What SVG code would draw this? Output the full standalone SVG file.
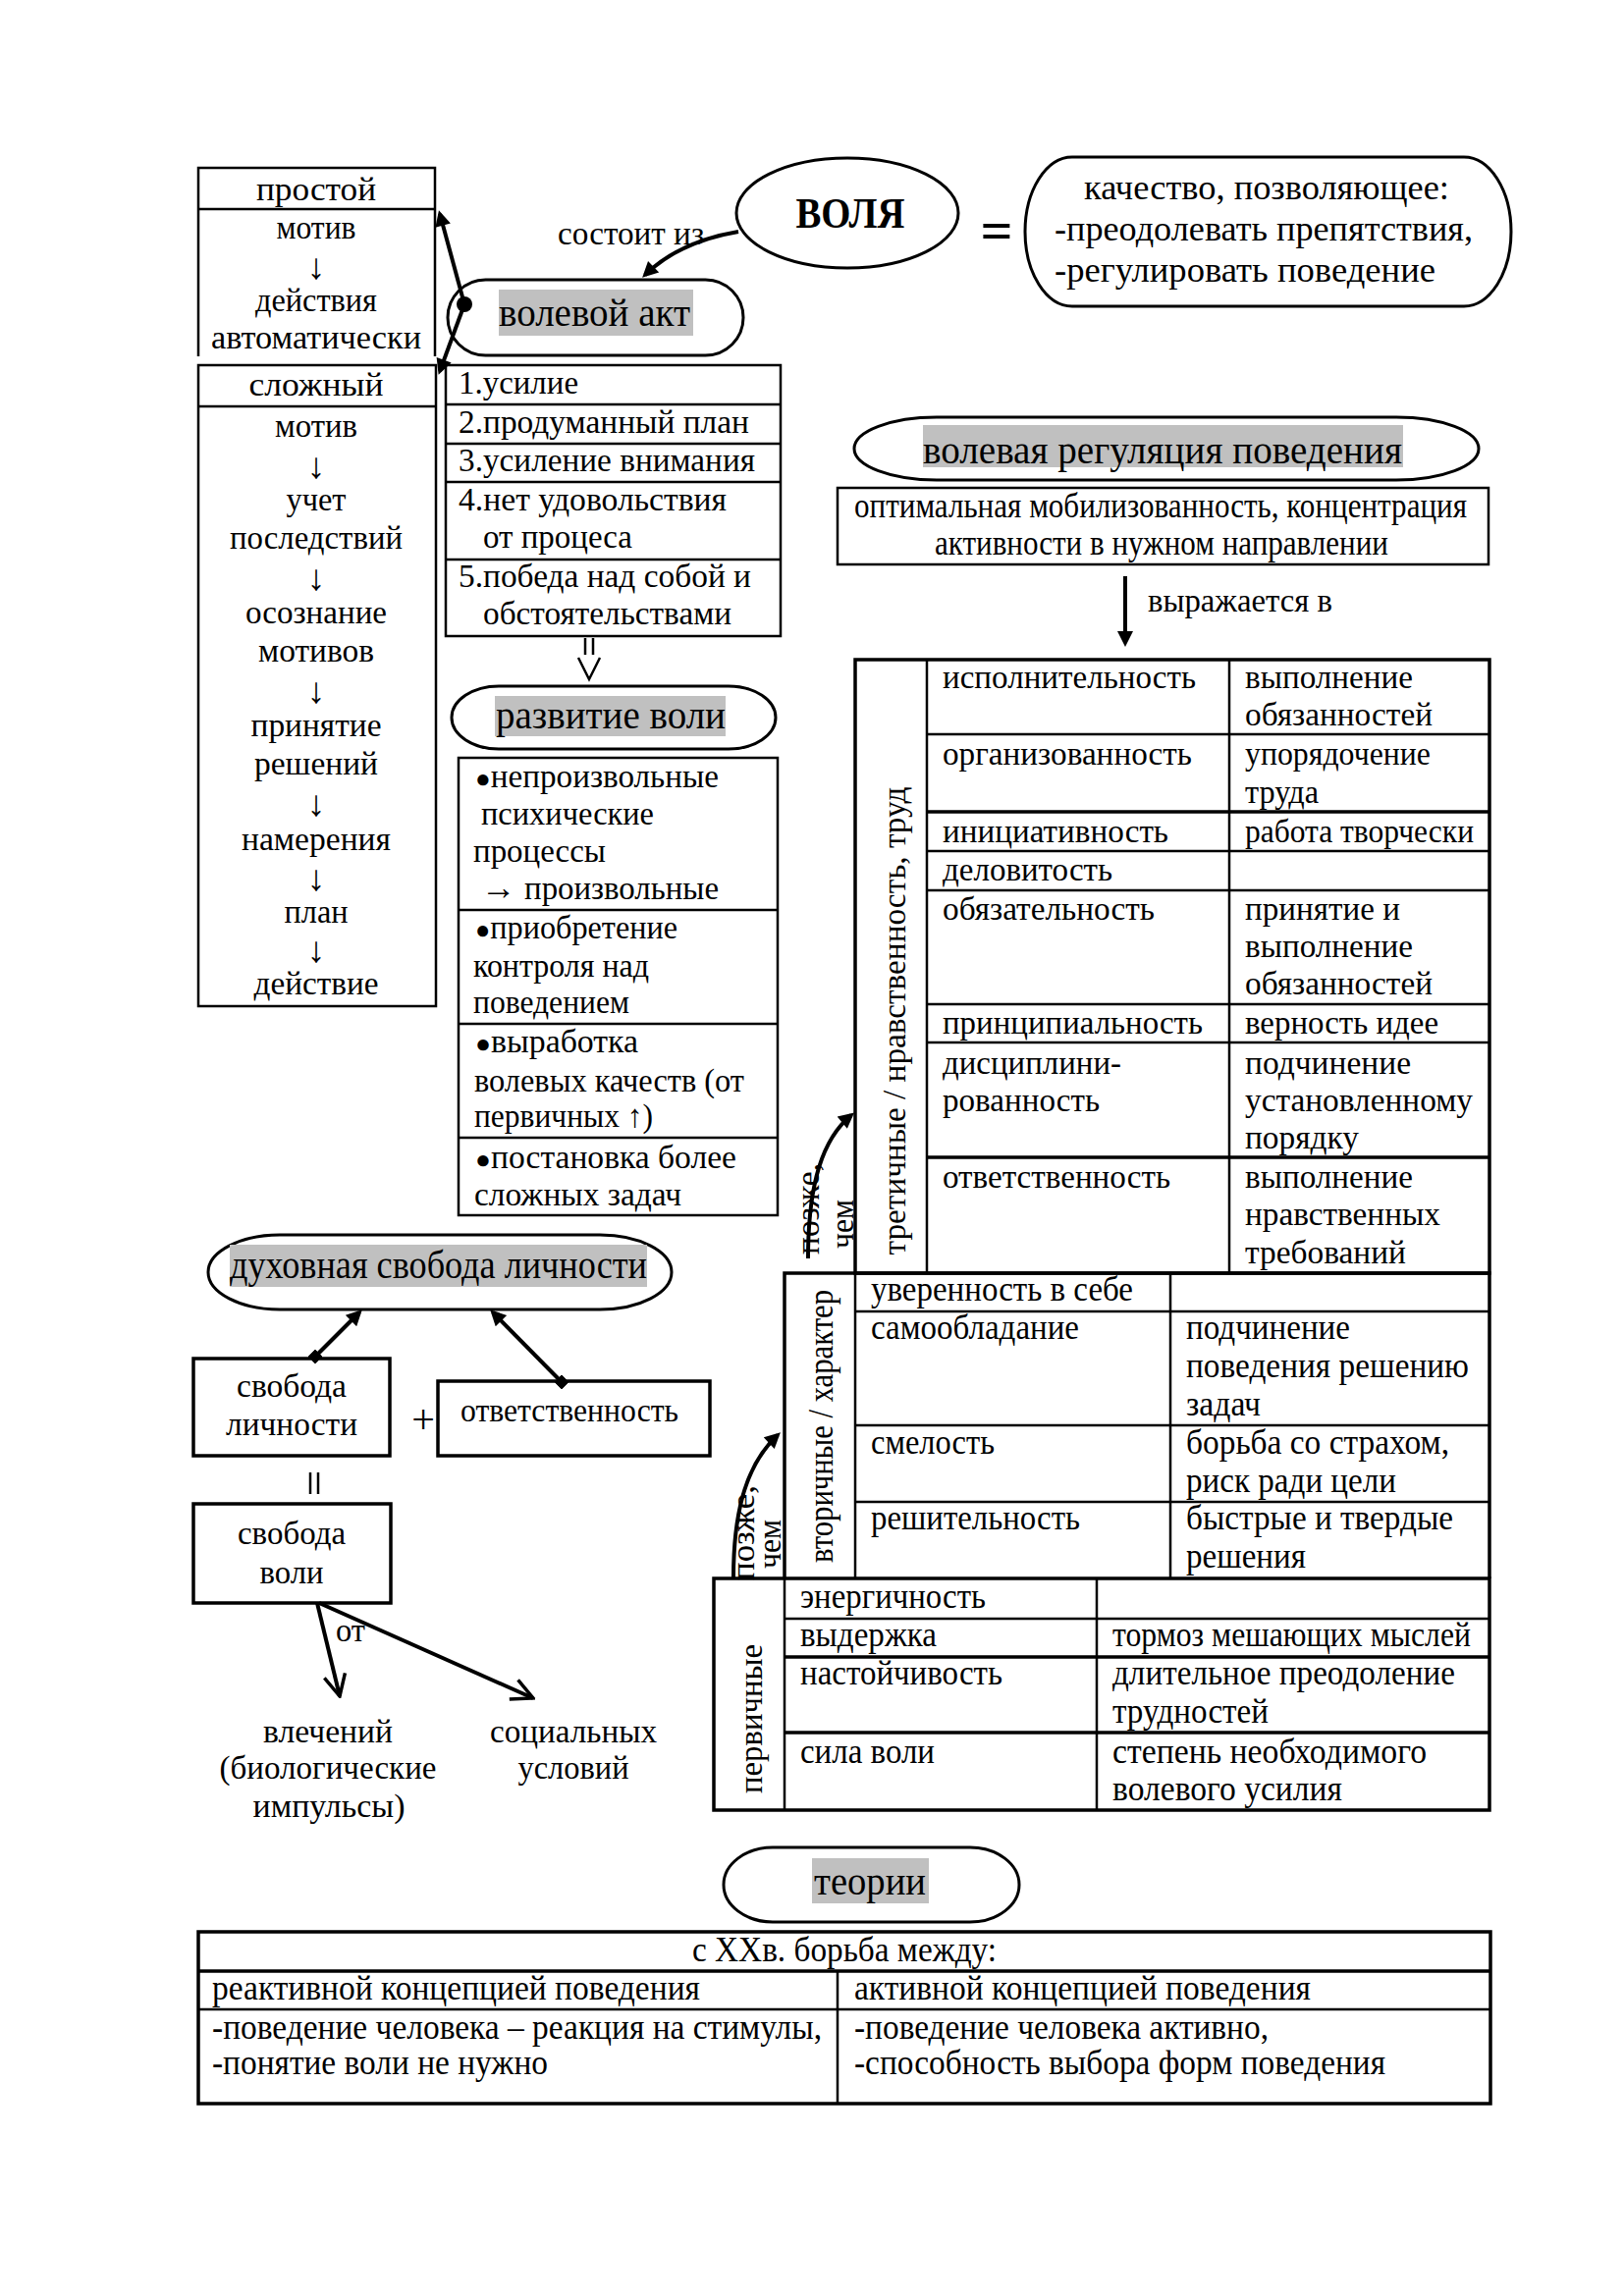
<svg xmlns="http://www.w3.org/2000/svg" width="1654" height="2339" viewBox="0 0 1654 2339">
<defs>
<style>
text{font-family:"Liberation Serif","Times New Roman",serif;font-size:33px;fill:#000}
.h{font-size:39px}
.c{font-size:36px}
.m{text-anchor:middle}
.bx{fill:none;stroke:#000;stroke-width:2.5}
.bx3{fill:none;stroke:#000;stroke-width:3.5}
.pl{fill:none;stroke:#000;stroke-width:3}
.ln{stroke:#000;stroke-width:2.5;fill:none}
.lt{stroke:#000;stroke-width:3.5;fill:none}
.hl{fill:#c0c0c0}
.ar{stroke:#000;stroke-width:4;fill:none}
.bl{font-size:26px}
.dn{font-size:37px}
.sy{font-size:36px}
</style>
<marker id="af" viewBox="0 0 10 10" refX="7.5" refY="5" markerUnits="userSpaceOnUse" markerWidth="20" markerHeight="16" orient="auto"><path d="M0,0 L10,5 L0,10 z" fill="#000"/></marker>
<marker id="ao" viewBox="0 0 12 12" refX="11" refY="6" markerUnits="userSpaceOnUse" markerWidth="26" markerHeight="26" orient="auto"><path d="M1,1 L11,6 L1,11" fill="none" stroke="#000" stroke-width="1.6"/></marker>
<marker id="sq" viewBox="0 0 10 10" refX="5" refY="5" markerUnits="userSpaceOnUse" markerWidth="11" markerHeight="11" orient="auto"><rect width="10" height="10" fill="#000"/></marker>
</defs>
<rect width="1654" height="2339" fill="#fff"/>

<g id="prostoy">
<path class="bx" d="M202,363 V171 H443 V363"/>
<line class="ln" x1="202" y1="213" x2="443" y2="213"/>
<text class="m" x="322" y="204" textLength="122" lengthAdjust="spacingAndGlyphs">простой</text>
<text class="m" x="322" y="243" textLength="81" lengthAdjust="spacingAndGlyphs">мотив</text>
<text class="m dn" x="322" y="284">↓</text>
<text class="m" x="322" y="317" textLength="124" lengthAdjust="spacingAndGlyphs">действия</text>
<text class="m" x="322" y="355" textLength="214" lengthAdjust="spacingAndGlyphs">автоматически</text>
</g>

<g id="slozhny">
<rect class="bx" x="202" y="372" width="242" height="653"/>
<line class="ln" x1="202" y1="414" x2="444" y2="414"/>
<text class="m" x="322" y="403" textLength="137" lengthAdjust="spacingAndGlyphs">сложный</text>
<text class="m" x="322" y="445" textLength="84" lengthAdjust="spacingAndGlyphs">мотив</text>
<text class="m dn" x="322" y="487">↓</text>
<text class="m" x="322" y="520" textLength="61" lengthAdjust="spacingAndGlyphs">учет</text>
<text class="m" x="322" y="559" textLength="176" lengthAdjust="spacingAndGlyphs">последствий</text>
<text class="m dn" x="322" y="601">↓</text>
<text class="m" x="322" y="635" textLength="144" lengthAdjust="spacingAndGlyphs">осознание</text>
<text class="m" x="322" y="674" textLength="118" lengthAdjust="spacingAndGlyphs">мотивов</text>
<text class="m dn" x="322" y="716">↓</text>
<text class="m" x="322" y="750" textLength="133" lengthAdjust="spacingAndGlyphs">принятие</text>
<text class="m" x="322" y="789" textLength="126" lengthAdjust="spacingAndGlyphs">решений</text>
<text class="m dn" x="322" y="831">↓</text>
<text class="m" x="322" y="866" textLength="152" lengthAdjust="spacingAndGlyphs">намерения</text>
<text class="m dn" x="322" y="907">↓</text>
<text class="m" x="322" y="940" textLength="65" lengthAdjust="spacingAndGlyphs">план</text>
<text class="m dn" x="322" y="980">↓</text>
<text class="m" x="322" y="1013" textLength="127" lengthAdjust="spacingAndGlyphs">действие</text>
</g>

<g id="volya">
<ellipse class="pl" cx="863" cy="217" rx="113" ry="56"/>
<text class="m" x="866" y="232" style="font-size:44px;font-weight:bold" textLength="111" lengthAdjust="spacingAndGlyphs">ВОЛЯ</text>
</g>

<g id="equals">
<text class="m" x="1015" y="254" style="font-size:58px;font-weight:bold">=</text>
</g>

<g id="kachestvo">
<rect class="pl" x="1044" y="160" width="495" height="152" rx="48" ry="76"/>
<text class="c m" x="1290" y="203" textLength="372" lengthAdjust="spacingAndGlyphs">качество, позволяющее:</text>
<text class="c" x="1074" y="245" textLength="426" lengthAdjust="spacingAndGlyphs">-преодолевать препятствия,</text>
<text class="c" x="1074" y="287" textLength="388" lengthAdjust="spacingAndGlyphs">-регулировать поведение</text>
</g>

<g id="volevoy-akt">
<rect class="pl" x="456" y="285" width="301" height="77" rx="38.5"/>
<rect class="hl" x="508" y="295" width="198" height="47"/>
<text class="h" x="508" y="332" textLength="195" lengthAdjust="spacingAndGlyphs">волевой акт</text>
<circle cx="473" cy="310" r="8" fill="#000"/>
</g>

<g id="akt-list">
<rect class="bx" x="454" y="372" width="341" height="276"/>
<line class="ln" x1="454" y1="412" x2="795" y2="412"/>
<line class="ln" x1="454" y1="452" x2="795" y2="452"/>
<line class="ln" x1="454" y1="491" x2="795" y2="491"/>
<line class="ln" x1="454" y1="570" x2="795" y2="570"/>
<text x="467" y="401" textLength="122" lengthAdjust="spacingAndGlyphs">1.усилие</text>
<text x="467" y="441" textLength="296" lengthAdjust="spacingAndGlyphs">2.продуманный план</text>
<text x="467" y="480" textLength="302" lengthAdjust="spacingAndGlyphs">3.усиление внимания</text>
<text x="467" y="520" textLength="273" lengthAdjust="spacingAndGlyphs">4.нет удовольствия</text>
<text x="492" y="558" textLength="152" lengthAdjust="spacingAndGlyphs">от процеса</text>
<text x="467" y="598" textLength="298" lengthAdjust="spacingAndGlyphs">5.победа над собой и</text>
<text x="492" y="636" textLength="253" lengthAdjust="spacingAndGlyphs">обстоятельствами</text>
</g>

<g id="razvitie">
<rect class="pl" x="460" y="699" width="330" height="64" rx="48" ry="32"/>
<rect class="hl" x="504" y="709" width="235" height="41"/>
<text class="h" x="505" y="742" textLength="234" lengthAdjust="spacingAndGlyphs">развитие воли</text>
</g>

<g id="razvitie-list">
<rect class="bx" x="467" y="772" width="325" height="466"/>
<line class="ln" x1="467" y1="927" x2="792" y2="927"/>
<line class="ln" x1="467" y1="1043" x2="792" y2="1043"/>
<line class="ln" x1="467" y1="1159" x2="792" y2="1159"/>
<text x="484" y="802" textLength="248" lengthAdjust="spacingAndGlyphs"><tspan class="bl">●</tspan>непроизвольные</text>
<text x="490" y="840" textLength="176" lengthAdjust="spacingAndGlyphs">психические</text>
<text x="482" y="878" textLength="135" lengthAdjust="spacingAndGlyphs">процессы</text>
<text x="490" y="916" textLength="242" lengthAdjust="spacingAndGlyphs"><tspan class="sy">→</tspan> произвольные</text>
<text x="484" y="956" textLength="206" lengthAdjust="spacingAndGlyphs"><tspan class="bl">●</tspan>приобретение</text>
<text x="482" y="995" textLength="179" lengthAdjust="spacingAndGlyphs">контроля над</text>
<text x="482" y="1032" textLength="159" lengthAdjust="spacingAndGlyphs">поведением</text>
<text x="484" y="1072" textLength="166" lengthAdjust="spacingAndGlyphs"><tspan class="bl">●</tspan>выработка</text>
<text x="483" y="1112" textLength="275" lengthAdjust="spacingAndGlyphs">волевых качеств (от</text>
<text x="483" y="1148" textLength="182" lengthAdjust="spacingAndGlyphs">первичных ↑)</text>
<text x="484" y="1190" textLength="266" lengthAdjust="spacingAndGlyphs"><tspan class="bl">●</tspan>постановка более</text>
<text x="483" y="1228" textLength="211" lengthAdjust="spacingAndGlyphs">сложных задач</text>
</g>

<g id="regulyaciya">
<rect class="pl" x="870" y="425" width="636" height="64" rx="84" ry="32"/>
<rect class="hl" x="940" y="433" width="489" height="43"/>
<text class="h" x="940" y="472" textLength="488" lengthAdjust="spacingAndGlyphs">волевая регуляция поведения</text>
</g>

<g id="mobilizovannost">
<rect class="bx" x="853" y="497" width="663" height="78"/>
<text class="c m" x="1182" y="527" textLength="624" lengthAdjust="spacingAndGlyphs">оптимальная мобилизованность, концентрация</text>
<text class="c m" x="1183" y="565" textLength="462" lengthAdjust="spacingAndGlyphs">активности в нужном направлении</text>
</g>

<g id="tretichnye">
<rect class="lt" x="871" y="672" width="646" height="625"/>
<line class="ln" x1="944" y1="672" x2="944" y2="1297"/>
<line class="ln" x1="1252" y1="672" x2="1252" y2="1297"/>
<line class="ln" x1="944" y1="748" x2="1517" y2="748"/>
<line class="lt" x1="944" y1="827" x2="1517" y2="827"/>
<line class="ln" x1="944" y1="867" x2="1517" y2="867"/>
<line class="ln" x1="944" y1="907" x2="1517" y2="907"/>
<line class="ln" x1="944" y1="1023" x2="1517" y2="1023"/>
<line class="ln" x1="944" y1="1062" x2="1517" y2="1062"/>
<line class="lt" x1="944" y1="1179" x2="1517" y2="1179"/>
<text class="m" transform="translate(922,1040) rotate(-90)" textLength="477" lengthAdjust="spacingAndGlyphs">третичные / нравственность, труд</text>
<text x="960" y="701" textLength="258" lengthAdjust="spacingAndGlyphs">исполнительность</text>
<text x="1268" y="701" textLength="171" lengthAdjust="spacingAndGlyphs">выполнение</text>
<text x="1268" y="739" textLength="191" lengthAdjust="spacingAndGlyphs">обязанностей</text>
<text x="960" y="779" textLength="254" lengthAdjust="spacingAndGlyphs">организованность</text>
<text x="1268" y="779" textLength="189" lengthAdjust="spacingAndGlyphs">упорядочение</text>
<text x="1268" y="818" textLength="75" lengthAdjust="spacingAndGlyphs">труда</text>
<text x="960" y="858" textLength="230" lengthAdjust="spacingAndGlyphs">инициативность</text>
<text x="1268" y="858" textLength="233" lengthAdjust="spacingAndGlyphs">работа творчески</text>
<text x="960" y="897" textLength="173" lengthAdjust="spacingAndGlyphs">деловитость</text>
<text x="960" y="937" textLength="216" lengthAdjust="spacingAndGlyphs">обязательность</text>
<text x="1268" y="937" textLength="158" lengthAdjust="spacingAndGlyphs">принятие и</text>
<text x="1268" y="975" textLength="171" lengthAdjust="spacingAndGlyphs">выполнение</text>
<text x="1268" y="1013" textLength="191" lengthAdjust="spacingAndGlyphs">обязанностей</text>
<text x="960" y="1053" textLength="265" lengthAdjust="spacingAndGlyphs">принципиальность</text>
<text x="1268" y="1053" textLength="197" lengthAdjust="spacingAndGlyphs">верность идее</text>
<text x="960" y="1094" textLength="182" lengthAdjust="spacingAndGlyphs">дисциплини-</text>
<text x="960" y="1132" textLength="160" lengthAdjust="spacingAndGlyphs">рованность</text>
<text x="1268" y="1094" textLength="169" lengthAdjust="spacingAndGlyphs">подчинение</text>
<text x="1268" y="1132" textLength="232" lengthAdjust="spacingAndGlyphs">установленному</text>
<text x="1268" y="1170" textLength="116" lengthAdjust="spacingAndGlyphs">порядку</text>
<text x="960" y="1210" textLength="232" lengthAdjust="spacingAndGlyphs">ответственность</text>
<text x="1268" y="1210" textLength="171" lengthAdjust="spacingAndGlyphs">выполнение</text>
<text x="1268" y="1248" textLength="199" lengthAdjust="spacingAndGlyphs">нравственных</text>
<text x="1268" y="1287" textLength="164" lengthAdjust="spacingAndGlyphs">требований</text>
</g>

<g id="vtorichnye">
<path class="lt" d="M799,1608 V1297 H1517 V1608"/>
<line class="ln" x1="871" y1="1297" x2="871" y2="1608"/>
<line class="ln" x1="1192" y1="1297" x2="1192" y2="1608"/>
<line class="ln" x1="871" y1="1336" x2="1517" y2="1336"/>
<line class="ln" x1="871" y1="1452" x2="1517" y2="1452"/>
<line class="ln" x1="871" y1="1530" x2="1517" y2="1530"/>
<text class="c m" transform="translate(848,1453) rotate(-90)" textLength="278" lengthAdjust="spacingAndGlyphs">вторичные / характер</text>
<text class="c" x="887" y="1325" textLength="267" lengthAdjust="spacingAndGlyphs">уверенность в себе</text>
<text class="c" x="887" y="1364" textLength="212" lengthAdjust="spacingAndGlyphs">самообладание</text>
<text class="c" x="1208" y="1364" textLength="167" lengthAdjust="spacingAndGlyphs">подчинение</text>
<text class="c" x="1208" y="1403" textLength="288" lengthAdjust="spacingAndGlyphs">поведения решению</text>
<text class="c" x="1208" y="1442" textLength="76" lengthAdjust="spacingAndGlyphs">задач</text>
<text class="c" x="887" y="1481" textLength="126" lengthAdjust="spacingAndGlyphs">смелость</text>
<text class="c" x="1208" y="1481" textLength="268" lengthAdjust="spacingAndGlyphs">борьба со страхом,</text>
<text class="c" x="1208" y="1520" textLength="214" lengthAdjust="spacingAndGlyphs">риск ради цели</text>
<text class="c" x="887" y="1558" textLength="213" lengthAdjust="spacingAndGlyphs">решительность</text>
<text class="c" x="1208" y="1558" textLength="272" lengthAdjust="spacingAndGlyphs">быстрые и твердые</text>
<text class="c" x="1208" y="1597" textLength="122" lengthAdjust="spacingAndGlyphs">решения</text>
</g>

<g id="pervichnye">
<rect class="lt" x="727" y="1608" width="790" height="236"/>
<line class="ln" x1="799" y1="1608" x2="799" y2="1844"/>
<line class="ln" x1="1117" y1="1608" x2="1117" y2="1844"/>
<line class="ln" x1="799" y1="1649" x2="1517" y2="1649"/>
<line class="lt" x1="799" y1="1688" x2="1517" y2="1688"/>
<line class="lt" x1="799" y1="1765" x2="1517" y2="1765"/>
<text class="m" transform="translate(776,1751) rotate(-90)" textLength="152" lengthAdjust="spacingAndGlyphs">первичные</text>
<text class="c" x="815" y="1638" textLength="189" lengthAdjust="spacingAndGlyphs">энергичность</text>
<text class="c" x="815" y="1677" textLength="139" lengthAdjust="spacingAndGlyphs">выдержка</text>
<text class="c" x="1133" y="1677" textLength="365" lengthAdjust="spacingAndGlyphs">тормоз мешающих мыслей</text>
<text class="c" x="815" y="1716" textLength="206" lengthAdjust="spacingAndGlyphs">настойчивость</text>
<text class="c" x="1133" y="1716" textLength="349" lengthAdjust="spacingAndGlyphs">длительное преодоление</text>
<text class="c" x="1133" y="1755" textLength="159" lengthAdjust="spacingAndGlyphs">трудностей</text>
<text class="c" x="815" y="1796" textLength="137" lengthAdjust="spacingAndGlyphs">сила воли</text>
<text class="c" x="1133" y="1796" textLength="320" lengthAdjust="spacingAndGlyphs">степень необходимого</text>
<text class="c" x="1133" y="1834" textLength="234" lengthAdjust="spacingAndGlyphs">волевого усилия</text>
</g>

<g id="duhovnaya">
<rect class="pl" x="212" y="1258" width="472" height="76" rx="73" ry="38"/>
<rect class="hl" x="234" y="1268" width="425" height="43"/>
<text class="h" x="234" y="1302" textLength="425" lengthAdjust="spacingAndGlyphs">духовная свобода личности</text>
</g>

<g id="svoboda-lichnosti">
<rect class="bx3" x="197" y="1384" width="200" height="99"/>
<text class="m" x="297" y="1423" textLength="112" lengthAdjust="spacingAndGlyphs">свобода</text>
<text class="m" x="297" y="1462" textLength="134" lengthAdjust="spacingAndGlyphs">личности</text>
</g>

<g id="plus">
<text class="m" x="431" y="1460" style="font-size:42px">+</text>
</g>

<g id="otvetstvennost">
<rect class="bx3" x="446" y="1407" width="277" height="76"/>
<text class="m" x="580" y="1448" textLength="222" lengthAdjust="spacingAndGlyphs">ответственность</text>
</g>

<g id="svoboda-voli">
<rect class="bx3" x="197" y="1532" width="201" height="101"/>
<text class="m" x="297" y="1573" textLength="110" lengthAdjust="spacingAndGlyphs">свобода</text>
<text class="m" x="297" y="1613" textLength="65" lengthAdjust="spacingAndGlyphs">воли</text>
</g>

<g id="vlecheniy">
<text class="m" x="334" y="1775" textLength="132" lengthAdjust="spacingAndGlyphs">влечений</text>
<text class="m" x="334" y="1812" textLength="221" lengthAdjust="spacingAndGlyphs">(биологические</text>
<text class="m" x="335" y="1851" textLength="155" lengthAdjust="spacingAndGlyphs">импульсы)</text>
</g>

<g id="socialnyh">
<text class="m" x="584" y="1775" textLength="170" lengthAdjust="spacingAndGlyphs">социальных</text>
<text class="m" x="584" y="1812" textLength="113" lengthAdjust="spacingAndGlyphs">условий</text>
</g>

<g id="teorii">
<rect class="pl" x="737" y="1882" width="301" height="76" rx="50" ry="38"/>
<rect class="hl" x="827" y="1893" width="119" height="46"/>
<text class="h" x="829" y="1930" textLength="114" lengthAdjust="spacingAndGlyphs">теории</text>
</g>

<g id="teorii-table">
<rect class="lt" x="202" y="1968" width="1316" height="175"/>
<line class="lt" x1="202" y1="2008" x2="1518" y2="2008"/>
<line class="ln" x1="202" y1="2047" x2="1518" y2="2047"/>
<line class="ln" x1="853" y1="2008" x2="853" y2="2143"/>
<text class="c m" x="860" y="1998" textLength="310" lengthAdjust="spacingAndGlyphs">с XXв. борьба между:</text>
<text class="c" x="216" y="2037" textLength="497" lengthAdjust="spacingAndGlyphs">реактивной концепцией поведения</text>
<text class="c" x="870" y="2037" textLength="465" lengthAdjust="spacingAndGlyphs">активной концепцией поведения</text>
<text class="c" x="216" y="2077" textLength="621" lengthAdjust="spacingAndGlyphs">-поведение человека – реакция на стимулы,</text>
<text class="c" x="216" y="2113" textLength="342" lengthAdjust="spacingAndGlyphs">-понятие воли не нужно</text>
<text class="c" x="870" y="2077" textLength="422" lengthAdjust="spacingAndGlyphs">-поведение человека активно,</text>
<text class="c" x="870" y="2113" textLength="541" lengthAdjust="spacingAndGlyphs">-способность выбора форм поведения</text>
</g>

<g id="connectors">
<path class="ar" d="M752,236 Q692,246 657,280" marker-end="url(#af)"/>
<text x="568" y="249" textLength="149" lengthAdjust="spacingAndGlyphs">состоит из</text>
<line class="ar" x1="473" y1="310" x2="448" y2="218" marker-end="url(#af)"/>
<line class="ar" x1="473" y1="310" x2="448" y2="378" marker-end="url(#af)"/>
<line class="ln" x1="596" y1="650" x2="596" y2="667"/>
<line class="ln" x1="604" y1="650" x2="604" y2="667"/>
<polyline class="ln" points="589,670 600,692 611,670"/>
<line class="ar" x1="1146" y1="587" x2="1146" y2="655" marker-end="url(#af)"/>
<text x="1169" y="623" textLength="188" lengthAdjust="spacingAndGlyphs">выражается в</text>
<path class="ar" d="M823,1282 C823,1205 838,1160 867,1136" marker-end="url(#af)"/>
<text transform="translate(834,1278) rotate(-90)" textLength="93" lengthAdjust="spacingAndGlyphs">позже,</text>
<text transform="translate(869,1272) rotate(-90)" textLength="50" lengthAdjust="spacingAndGlyphs">чем</text>
<path class="ar" d="M747,1607 C747,1535 762,1490 792,1462" marker-end="url(#af)"/>
<text transform="translate(768,1610) rotate(-90)" textLength="97" lengthAdjust="spacingAndGlyphs">позже,</text>
<text transform="translate(795,1598) rotate(-90)" textLength="50" lengthAdjust="spacingAndGlyphs">чем</text>
<line class="ar" x1="321" y1="1382" x2="366" y2="1337" marker-start="url(#sq)" marker-end="url(#af)"/>
<line class="ar" x1="572" y1="1408" x2="502" y2="1337" marker-start="url(#sq)" marker-end="url(#af)"/>
<line class="ln" x1="316" y1="1500" x2="316" y2="1522"/>
<line class="ln" x1="324" y1="1500" x2="324" y2="1522"/>
<line class="ar" x1="323" y1="1633" x2="346" y2="1728" marker-end="url(#ao)"/>
<line class="ar" x1="325" y1="1633" x2="543" y2="1730" marker-end="url(#ao)"/>
<text x="342" y="1672" textLength="30" lengthAdjust="spacingAndGlyphs">от</text>
</g>
</svg>
